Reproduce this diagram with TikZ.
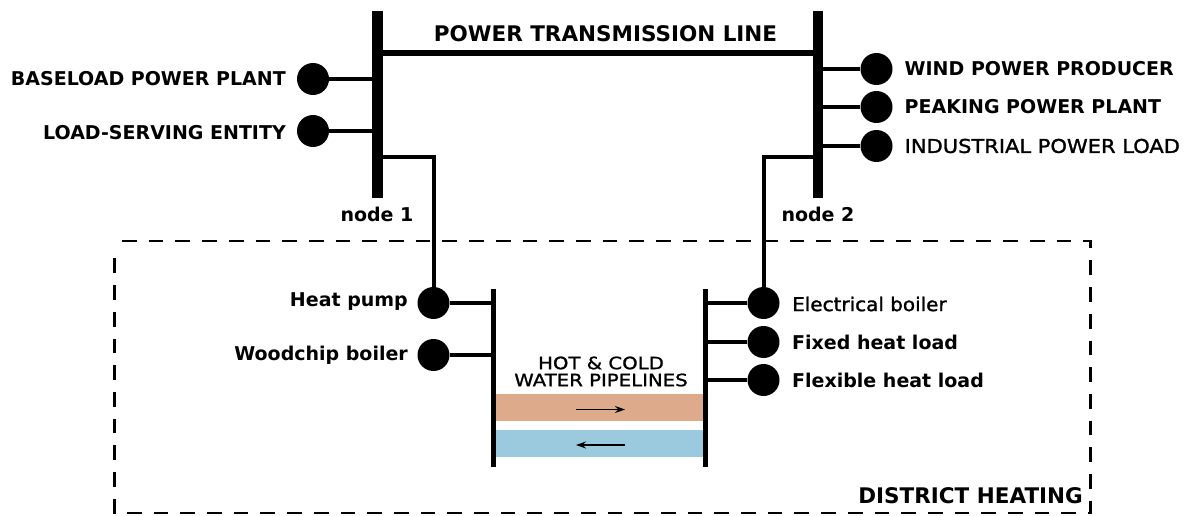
\documentclass[tikz,border=0pt]{standalone}
\usepackage{fontspec}
\setmainfont{DejaVu Sans}
\newfontfamily\semifont[FakeBold=1.5,FakeStretch=1.105]{DejaVu Sans}
\newfontfamily\semifontb[FakeBold=1.5,FakeStretch=1.05]{DejaVu Sans}
\newfontfamily\semifontc[FakeBold=1.2,FakeStretch=1.16]{DejaVu Sans}
\usetikzlibrary{positioning,
                arrows.meta}             % arrow tips

\definecolor{hotpipe}{RGB}{222,170,140}
\definecolor{coldpipe}{RGB}{155,202,222}

\tikzset{
  dot/.style={circle,fill=black,inner sep=0pt,minimum size=32pt},
  bus/.style={line width=10.5pt},
  feeder/.style={line width=4pt},
  flowarrow/.style={-{Stealth[length=10pt,width=7pt]},line width=1.1pt},
  titlelabel/.style={font=\bfseries\fontsize{21.5}{24}\selectfont,inner sep=0pt},
  biglabel/.style={font=\bfseries\fontsize{19}{22}\selectfont,inner sep=0pt},
  semilabel/.style={font=\semifont\fontsize{19}{22}\selectfont,inner sep=0pt}
}

\begin{document}
\begin{tikzpicture}[x=1pt,y=-1pt]
      \useasboundingbox (0,0) rectangle (1186,516);

      % power side
      \coordinate (busonetop) at (377.5,11);
      \coordinate (busonebot) at (377.5,198);
      \coordinate (bustwotop) at (818,11);
      \coordinate (bustwobot) at (818,198);
      \coordinate (kneeone) at (433.5,157);
      \coordinate (kneetwo) at (763.5,157);

      \node[dot] (baseload) at (313,79) {};
      \node[dot] (lse) at (313,131) {};
      \node[dot] (wind) at (876.5,69) {};
      \node[dot] (peaking) at (876.5,107) {};
      \node[dot] (industrial) at (876.5,146) {};

      % heat side
      \coordinate (pipeonetop) at (493.5,289);
      \coordinate (pipeonebot) at (493.5,467);
      \coordinate (pipetwotop) at (705,289);
      \coordinate (pipetwobot) at (705,467);

      \node[dot] (heatpump) at (433.5,303) {};
      \node[dot] (woodchip) at (433.5,355) {};
      \node[dot] (electrical) at (763.5,303) {};
      \node[dot] (fixedload) at (763.5,342) {};
      \node[dot] (flexload) at (763.5,380) {};

      % dashed area
      \draw[line width=2.6pt,dash pattern=on 14.7pt off 12pt] (122,241) -- (1090.5,241) -- (1090.5,513) -- (114.5,513) -- (114.5,253);

      % pipes
      \fill[hotpipe] (496,394) rectangle (703,421);
      \fill[coldpipe] (496,430) rectangle (703,457);
      \coordinate (hotleft) at (576,409.5);
      \coordinate (hotright) at (625,409.5);
      \coordinate (coldleft) at (576,445);
      \coordinate (coldright) at (625,445);
      \draw[flowarrow] (hotleft) -- (hotright);
      \draw[flowarrow] (coldright) -- (coldleft);

      % lines
      \draw[bus] (busonetop) -- (busonebot);
      \draw[bus] (bustwotop) -- (bustwobot);
      \draw[line width=6pt] (busonetop |- 0,53) -- (bustwotop |- 0,53);
      \draw[feeder] (baseload) -- (baseload -| busonetop);
      \draw[feeder] (lse) -- (lse -| busonetop);
      \draw[feeder] (wind) -- (wind -| bustwotop);
      \draw[feeder] (peaking) -- (peaking -| bustwotop);
      \draw[feeder] (industrial) -- (industrial -| bustwotop);
      \draw[feeder] (busonetop |- kneeone) -- (kneeone) -- (heatpump);
      \draw[feeder] (bustwotop |- kneetwo) -- (kneetwo) -- (electrical);

      \draw[line width=5pt] (pipeonetop) -- (pipeonebot);
      \draw[line width=5pt] (pipetwotop) -- (pipetwobot);
      \draw[feeder] (heatpump) -- (heatpump -| pipeonetop);
      \draw[feeder] (woodchip) -- (woodchip -| pipeonetop);
      \draw[feeder] (electrical) -- (electrical -| pipetwotop);
      \draw[feeder] (fixedload) -- (fixedload -| pipetwotop);
      \draw[feeder] (flexload) -- (flexload -| pipetwotop);

      % labels
      \node[titlelabel] (linelabel) at (605.5,34) {POWER TRANSMISSION LINE};
      \node[biglabel,anchor=east] (baseloadlabel) at (286,79) {BASELOAD POWER PLANT};
      \node[biglabel,anchor=east] (lselabel) at (286,133) {LOAD-SERVING ENTITY};
      \node[biglabel,anchor=west] (windlabel) at (904.5,69) {WIND POWER PRODUCER};
      \node[biglabel,anchor=west] (peakinglabel) at (904.5,107) {PEAKING POWER PLANT};
      \node[semilabel,anchor=west] (industriallabel) at (904.5,146) {INDUSTRIAL POWER LOAD};
      \node[biglabel] (nodeonelabel) at (377,214) {node 1};
      \node[biglabel] (nodetwolabel) at (818,214) {node 2};
      \node[biglabel,anchor=east] (heatpumplabel) at (408,302) {Heat pump};
      \node[biglabel,anchor=east] (woodchiplabel) at (408,355) {Woodchip boiler};
      \node[semilabel,anchor=west,font=\semifontb\fontsize{19}{22}\selectfont] (electricallabel) at (792,304) {Electrical boiler};
      \node[biglabel,anchor=west] (fixedlabel) at (792,342) {Fixed heat load};
      \node[biglabel,anchor=west] (flexlabel) at (792,380) {Flexible heat load};
      \node[inner sep=0pt,align=center,font=\semifontc\fontsize{17}{17}\selectfont] (pipelabel) at (601,371.5) {HOT \& COLD\\WATER PIPELINES};
      \node[titlelabel,anchor=east] (districtlabel) at (1083,496) {DISTRICT HEATING};
\end{tikzpicture}
\end{document}
